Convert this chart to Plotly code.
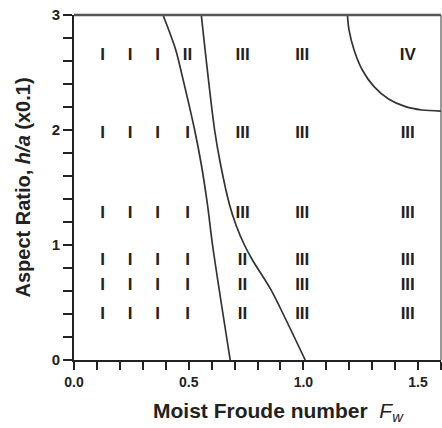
import plotly.graph_objects as go

# ---- data ----
col_x = [0.125, 0.245, 0.365, 0.495, 0.735, 0.995, 1.455]
row_y = [2.65, 1.97, 1.27, 0.865, 0.65, 0.39]
regime_labels = [
    ["I", "I", "I", "II", "III", "III", "IV"],
    ["I", "I", "I", "I", "III", "III", "III"],
    ["I", "I", "I", "I", "III", "III", "III"],
    ["I", "I", "I", "I", "II", "III", "III"],
    ["I", "I", "I", "I", "II", "III", "III"],
    ["I", "I", "I", "I", "II", "III", "III"],
]

# boundary I / II
b1_x = [0.388, 0.443, 0.473, 0.526, 0.555, 0.582, 0.604, 0.681]
b1_y = [3.0, 2.70, 2.46, 2.0, 1.70, 1.35, 1.0, 0.0]
# boundary II / III
b2_x = [0.555, 0.613, 0.639, 0.678, 0.707, 0.743, 0.778, 0.859, 0.924, 1.008]
b2_y = [3.0, 2.0, 1.70, 1.35, 1.17, 1.0, 0.87, 0.61, 0.35, 0.0]
# boundary III / IV (arc)
b3_x = [1.192, 1.199, 1.221, 1.257, 1.308, 1.373, 1.445, 1.517, 1.60]
b3_y = [3.0, 2.870, 2.696, 2.522, 2.377, 2.267, 2.203, 2.174, 2.165]

# tick positions and labels (every 0.1 on x, every 0.2 on y; labels on majors only)
x_tickvals = [0.0, 0.1, 0.2, 0.3, 0.4, 0.5, 0.6, 0.7, 0.8, 0.9, 1.0, 1.1, 1.2, 1.3, 1.4, 1.5, 1.6]
x_ticktext = ["0.0", " ", " ", " ", " ", "0.5", " ", " ", " ", " ", "1.0", " ", " ", " ", " ", "1.5", " "]
y_tickvals = [0.0, 0.2, 0.4, 0.6, 0.8, 1.0, 1.2, 1.4, 1.6, 1.8, 2.0, 2.2, 2.4, 2.6, 2.8, 3.0]
y_ticktext = ["0", " ", " ", " ", " ", "1", " ", " ", " ", " ", "2", " ", " ", " ", " ", "3"]

FONT = "Liberation Sans, Arial, sans-serif"
INK = "#222222"

fig = go.Figure()

for bx, by in [(b1_x, b1_y), (b2_x, b2_y), (b3_x, b3_y)]:
    fig.add_trace(go.Scatter(
        x=bx, y=by, mode="lines",
        line=dict(color="#333333", width=1.7, shape="spline", smoothing=0.9),
        hoverinfo="skip", showlegend=False))

tx, ty, tt = [], [], []
for yi, row in zip(row_y, regime_labels):
    for xi, lab in zip(col_x, row):
        tx.append(xi)
        ty.append(yi)
        tt.append(lab)

fig.add_trace(go.Scatter(
    x=tx, y=ty, text=tt, mode="text", textposition="middle center",
    textfont=dict(family="Liberation Sans Narrow, " + FONT, size=17, color=INK, weight="bold"),
    showlegend=False, hoverinfo="skip"))

fig.update_layout(
    width=442, height=428,
    margin=dict(l=74, r=1, t=15, b=68),
    paper_bgcolor="white", plot_bgcolor="white",
    font=dict(family=FONT, color=INK),
    xaxis=dict(
        range=[0, 1.6], showgrid=False, zeroline=False,
        showline=True, linecolor="#222222", linewidth=2,
        tickmode="array", tickvals=x_tickvals, ticktext=x_ticktext,
        ticks="outside", ticklen=8, tickwidth=2, tickcolor="#222222",
        tickfont=dict(size=14, weight="bold", color=INK),
    ),
    yaxis=dict(
        range=[0, 3], showgrid=False, zeroline=False,
        showline=True, linecolor="#222222", linewidth=2,
        tickmode="array", tickvals=y_tickvals, ticktext=y_ticktext,
        ticks="outside", ticklen=9, tickwidth=2, tickcolor="#222222",
        tickfont=dict(size=15, weight="bold", color=INK),
    ),
    shapes=[
        dict(type="line", xref="paper", yref="paper", x0=0, x1=1, y0=1, y1=1,
             line=dict(color="#555555", width=2.5)),
        dict(type="line", xref="paper", yref="paper", x0=1, x1=1, y0=0, y1=1,
             line=dict(color="#555555", width=1.2)),
    ],
    annotations=[
        dict(text="<b>Moist Froude number</b>  <i>F</i><sub><i>w</i></sub>",
             xref="paper", yref="paper", x=0.557, y=0, xanchor="center", yanchor="middle",
             yshift=-52, showarrow=False, font=dict(size=21, family=FONT, color=INK)),
        dict(text="<b>Aspect Ratio, <i>h/a</i> (x0.1)</b>",
             xref="paper", yref="paper", x=0, y=0.5, xanchor="center", yanchor="middle",
             xshift=-52, yshift=0, textangle=-90, showarrow=False,
             font=dict(size=20, family=FONT, color=INK)),
    ],
)

fig.write_html("out.html")
